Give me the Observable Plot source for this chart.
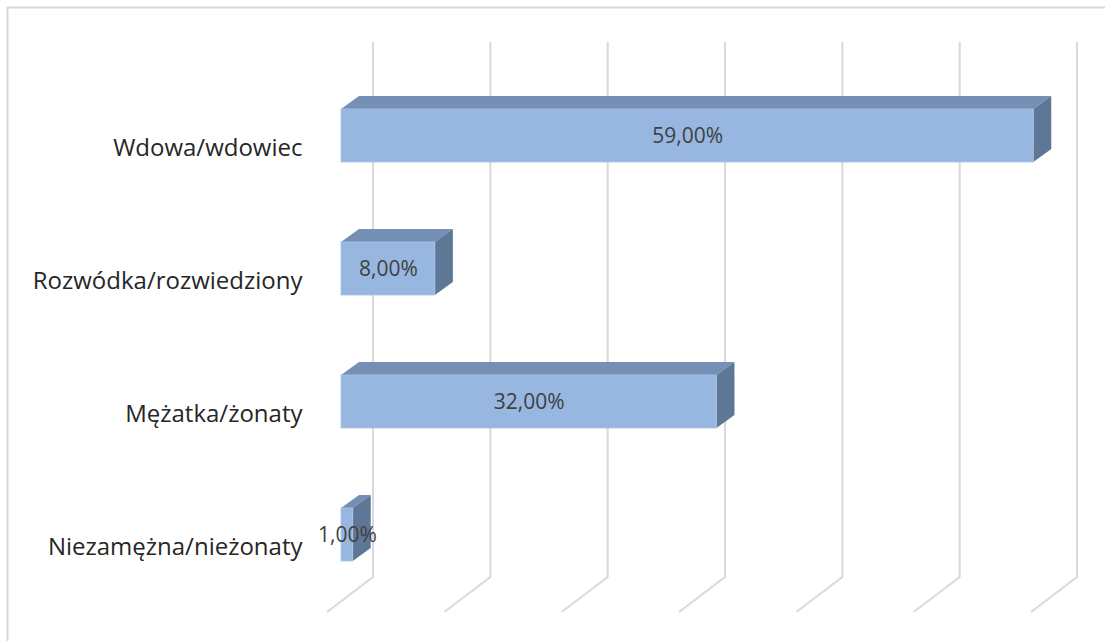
<!DOCTYPE html>
<html><head><meta charset="utf-8">
<script src="https://cdn.jsdelivr.net/npm/d3@7"></script>
<script src="https://cdn.jsdelivr.net/npm/@observablehq/plot@0.6"></script>
<style>body{margin:0;background:#fff} svg{display:block}</style>
</head><body><div id="chart"></div>
<script>
const categories = ["Wdowa/wdowiec", "Rozwódka/rozwiedziony", "Mężatka/żonaty", "Niezamężna/nieżonaty"];
const values = [59, 8, 32, 1];
const valueLabels = ["59,00%", "8,00%", "32,00%", "1,00%"];
const gridTicks = [0, 10, 20, 30, 40, 50, 60];

const data = categories.map((c, i) => ({category: c, value: values[i], label: valueLabels[i]}));

const DX = 18, DY = -13;           // bar depth
const WALL = 32, FLOOR_X = -46, FLOOR_Y = 35;
const TOP = 42, BASE = 577;

function gridRender(index, scales, vals) {
  const g = d3.create("svg:g").attr("fill", "none").attr("stroke", "#d9d9d9").attr("stroke-width", 2);
  for (const i of index) {
    const x = vals.x[i] + WALL;
    g.append("path").attr("d", `M${x},${TOP}V${BASE}L${x + FLOOR_X},${BASE + FLOOR_Y}`);
  }
  return g.node();
}

function barRender(index, scales, vals, dims, ctx, next) {
  const front = next(index, scales, vals, dims, ctx);
  let bw = scales.y.bandwidth;
  if (typeof bw === "function") bw = bw();
  if (!(bw > 0)) bw = 53;
  const g = d3.create("svg:g");
  for (const i of index) {
    const x1 = Math.min(vals.x1[i], vals.x2[i]);
    const x2 = Math.max(vals.x1[i], vals.x2[i]);
    const y = vals.y[i];
    g.append("path").attr("fill", "#7590b4")
      .attr("d", `M${x1},${y}L${x2},${y}L${x2 + DX},${y + DY}L${x1 + DX},${y + DY}Z`);
    g.append("path").attr("fill", "#5f7797")
      .attr("d", `M${x2},${y}L${x2 + DX},${y + DY}L${x2 + DX},${y + bw + DY}L${x2},${y + bw}Z`);
  }
  g.node().appendChild(front);
  return g.node();
}

const chart = Plot.plot({
  width: 1105,
  height: 641,
  margin: 0,
  x: {domain: [0, 60], range: [341, 1045], axis: null},
  y: {domain: categories, range: [67.67, 602.33], paddingInner: 0.604, paddingOuter: 0.302, axis: null},
  style: {fontFamily: "'Open Sans', sans-serif", background: "#fff"},
  marks: [
    Plot.frame({stroke: "#d9d9d9", strokeWidth: 2, insetLeft: 7, insetTop: 7, insetRight: -20, insetBottom: -20}),
    Plot.ruleX(gridTicks, {x: d => d, render: gridRender}),
    Plot.barX(data, {x: "value", y: "category", fill: "#97b7e0", stroke: "#a8c3e6", strokeWidth: 0.8, render: barRender}),
    Plot.text(data, {x: d => d.value / 2, y: "category", text: "label", fill: "#404040", fontSize: 21}),
    Plot.text(data, {x: d => 0, y: "category", text: "category", textAnchor: "end", dx: -39, dy: 12, fill: "#262626", fontSize: 24})
  ]
});
document.getElementById("chart").appendChild(chart);
</script>
</body></html>
